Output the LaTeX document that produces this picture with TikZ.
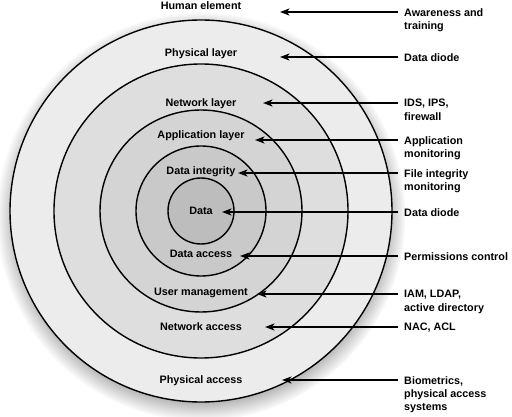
\documentclass[tikz,border=0pt]{standalone}
\usepackage{fontspec}
\setmainfont{Liberation Sans}
\usetikzlibrary{arrows.meta, shadows}
\definecolor{ringA}{gray}{0.925}
\definecolor{ringB}{gray}{0.87}
\definecolor{ringC}{gray}{0.83}
\definecolor{ringD}{gray}{0.79}
\definecolor{ringE}{gray}{0.74}
\tikzstyle{ring} = [draw, circle, line width=1.4pt, inner sep=0pt]
\tikzstyle{layer} = [font=\bfseries\fontsize{10.8}{13.3}\selectfont,
   inner sep=0pt, text height=7.7pt, text depth=0pt]
\tikzstyle{note} = [font=\bfseries\fontsize{10.8}{13.3}\selectfont,
   align=left, inner sep=0pt, anchor=north west, yshift=3.9pt]
\tikzstyle{pointer} = [-{Stealth[length=9.5pt,width=7pt,inset=2.5pt]}, line width=1.5pt]

\begin{document}
\begin{tikzpicture}[x=1pt,y=-1pt]
  \useasboundingbox (0,0) rectangle (512,417);
  \coordinate (o) at (201,211);

  % rings, outside in
  \node[ring, fill=ringA, minimum size=382pt,
        circular drop shadow={shadow xshift=0pt, shadow yshift=-5pt,
        shadow scale=1.07, opacity=0.9}] (c5) at (o) {};
  \node[ring, fill=ringB, minimum size=294pt] (c4) at (o) {};
  \node[ring, fill=ringC, minimum size=202pt] (c3) at (o) {};
  \node[ring, fill=ringD, minimum size=130pt] (c2) at (o) {};
  \node[ring, fill=ringE, minimum size=66pt] (c1) at (o) {};

  % layer names
  \node[layer] (l1) at (201,6) {Human element};
  \node[layer] (l2) at (201,53) {Physical layer};
  \node[layer] (l3) at (201,103) {Network layer};
  \node[layer] (l4) at (201,135) {Application layer};
  \node[layer] (l5) at (201,171) {Data integrity};
  \node[layer] (l6) at (201,211) {Data};
  \node[layer] (l7) at (201,254) {Data access};
  \node[layer] (l8) at (201,292) {User management};
  \node[layer] (l9) at (201,327) {Network access};
  \node[layer] (l10) at (201,380) {Physical access};

  % controls
  \node[note] (r1) at (404,12) {Awareness and\\training};
  \node[note] (r2) at (404,57) {Data diode};
  \node[note] (r3) at (404,103) {IDS, IPS,\\firewall};
  \node[note] (r4) at (404,140) {Application\\monitoring};
  \node[note] (r5) at (404,173) {File integrity\\monitoring};
  \node[note] (r6) at (404,212) {Data diode};
  \node[note] (r7) at (404,256) {Permissions control};
  \node[note] (r8) at (404,294) {IAM, LDAP,\\active directory};
  \node[note] (r9) at (404,327) {NAC, ACL};
  \node[note] (r10) at (404,380) {Biometrics,\\physical access\\systems};

  % where the arrows stop
  \coordinate (t1) at (280,12);
  \coordinate (t2) at (280,57);
  \coordinate (t3) at (263,103);
  \coordinate (t4) at (255,140);
  \coordinate (t5) at (238,173);
  \coordinate (t6) at (222,212);
  \coordinate (t7) at (240,256);
  \coordinate (t8) at (257,294);
  \coordinate (t9) at (265,327);
  \coordinate (t10) at (282,380);

  \draw[pointer] (r1.north west) ++(-6pt,-3.9pt) -- (t1);
  \draw[pointer] (r2.north west) ++(-6pt,-3.9pt) -- (t2);
  \draw[pointer] (r3.north west) ++(-6pt,-3.9pt) -- (t3);
  \draw[pointer] (r4.north west) ++(-6pt,-3.9pt) -- (t4);
  \draw[pointer] (r5.north west) ++(-6pt,-3.9pt) -- (t5);
  \draw[pointer] (r6.north west) ++(-6pt,-3.9pt) -- (t6);
  \draw[pointer] (r7.north west) ++(-6pt,-3.9pt) -- (t7);
  \draw[pointer] (r8.north west) ++(-6pt,-3.9pt) -- (t8);
  \draw[pointer] (r9.north west) ++(-6pt,-3.9pt) -- (t9);
  \draw[pointer] (r10.north west) ++(-6pt,-3.9pt) -- (t10);
\end{tikzpicture}
\end{document}
